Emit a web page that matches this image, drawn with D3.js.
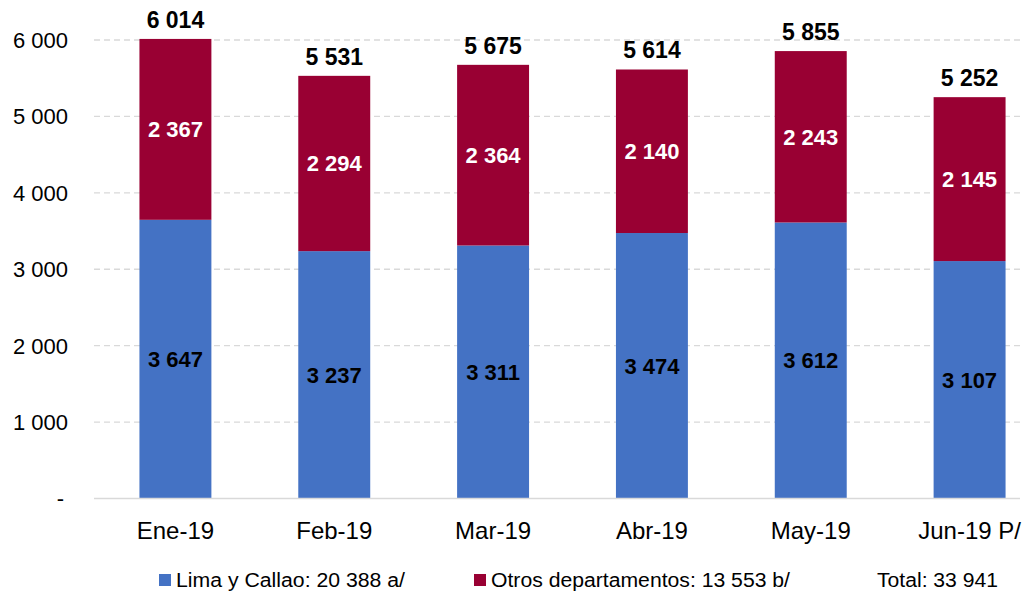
<!DOCTYPE html>
<html>
<head>
<meta charset="utf-8">
<script src="https://cdn.jsdelivr.net/npm/d3@7"></script>
<style>
  body { margin: 0; background: #fff; }
  svg { font-family: "Liberation Sans", Arial, sans-serif; }
</style>
</head>
<body>
<div id="chart"></div>
<script>
// monthly values
const months = ["Ene-19", "Feb-19", "Mar-19", "Abr-19", "May-19", "Jun-19 P/"];
const limaCallao = [3647, 3237, 3311, 3474, 3612, 3107];
const otrosDep = [2367, 2294, 2364, 2140, 2243, 2145];
const yTicks = [0, 1000, 2000, 3000, 4000, 5000, 6000];
const legendItems = ["Lima y Callao: 20 388 a/", "Otros departamentos: 13 553 b/"];
const totalText = "Total: 33 941";

const width = 1035, height = 594;
const colors = {lima: "#4472C4", otros: "#990033"};

const fmt = d3.formatLocale({decimal: ",", thousands: " ", grouping: [3], currency: ["", ""]}).format(",d");

const rows = months.map((m, i) => ({month: m, lima: limaCallao[i], otros: otrosDep[i]}));
const series = d3.stack().keys(["lima", "otros"])(rows);

const svg = d3.select("#chart").append("svg")
    .attr("width", width)
    .attr("height", height);

const x = d3.scaleBand()
    .domain(months)
    .range([96, 1049])
    .paddingInner(0.547)
    .paddingOuter(0.2735);

const y = d3.scaleLinear()
    .domain([0, 6000])
    .range([498.5, 40]);

// gridlines
svg.append("g")
  .selectAll("line")
  .data(yTicks.filter(d => d > 0))
  .join("line")
    .attr("x1", 94).attr("x2", 1020)
    .attr("y1", d => y(d)).attr("y2", d => y(d))
    .attr("stroke", "#d9d9d9")
    .attr("stroke-width", 1.3)
    .attr("stroke-dasharray", "6,4");

// y axis labels
svg.append("g")
  .selectAll("text")
  .data(yTicks)
  .join("text")
    .attr("x", d => d === 0 ? 64 : 68)
    .attr("y", d => y(d))
    .attr("dy", "0.36em")
    .attr("text-anchor", "end")
    .style("font-size", "22px")
    .style("fill", "#000")
    .text(d => d === 0 ? "-" : fmt(d));

// bars
svg.append("g")
  .selectAll("g")
  .data(series)
  .join("g")
    .attr("fill", d => colors[d.key])
  .selectAll("rect")
  .data(d => d)
  .join("rect")
    .attr("x", d => x(d.data.month))
    .attr("y", d => y(d[1]))
    .attr("width", x.bandwidth())
    .attr("height", d => y(d[0]) - y(d[1]));

// baseline
svg.append("line")
    .attr("x1", 94).attr("x2", 1020)
    .attr("y1", y(0)).attr("y2", y(0))
    .attr("stroke", "#d9d9d9")
    .attr("stroke-width", 1.5);

// segment labels
series.forEach(s => {
  svg.append("g")
    .selectAll("text")
    .data(s)
    .join("text")
      .attr("x", d => x(d.data.month) + x.bandwidth() / 2)
      .attr("y", d => y((d[0] + d[1]) / 2))
      .attr("dy", "0.36em")
      .attr("text-anchor", "middle")
      .style("font-size", "22px")
      .style("font-weight", "bold")
      .style("fill", s.key === "lima" ? "#000" : "#fff")
      .text(d => fmt(d[1] - d[0]));
});

// totals above bars
svg.append("g")
  .selectAll("text")
  .data(rows)
  .join("text")
    .attr("x", d => x(d.month) + x.bandwidth() / 2)
    .attr("y", d => y(d.lima + d.otros) - 11)
    .attr("text-anchor", "middle")
    .style("font-size", "23px")
    .style("font-weight", "bold")
    .style("fill", "#000")
    .text(d => fmt(d.lima + d.otros));

// x labels
svg.append("g")
  .selectAll("text")
  .data(months)
  .join("text")
    .attr("x", d => x(d) + x.bandwidth() / 2)
    .attr("y", 530)
    .attr("dy", "0.36em")
    .attr("text-anchor", "middle")
    .style("font-size", "24px")
    .style("fill", "#000")
    .text(d => d);

// legend
const legX = [159, 474];
const legW = [229, 299];
const leg = svg.append("g");
legendItems.forEach((t, i) => {
  leg.append("rect")
      .attr("x", legX[i]).attr("y", 574)
      .attr("width", 12).attr("height", 12)
      .attr("fill", i === 0 ? colors.lima : colors.otros);
  leg.append("text")
      .attr("x", legX[i] + 17).attr("y", 587)
      .attr("textLength", legW[i])
      .attr("lengthAdjust", "spacingAndGlyphs")
      .style("font-size", "19.5px")
      .style("fill", "#000")
      .text(t);
});
leg.append("text")
    .attr("x", 877).attr("y", 587)
    .attr("textLength", 121)
    .attr("lengthAdjust", "spacingAndGlyphs")
    .style("font-size", "19.5px")
    .style("fill", "#000")
    .text(totalText);
</script>
</body>
</html>
